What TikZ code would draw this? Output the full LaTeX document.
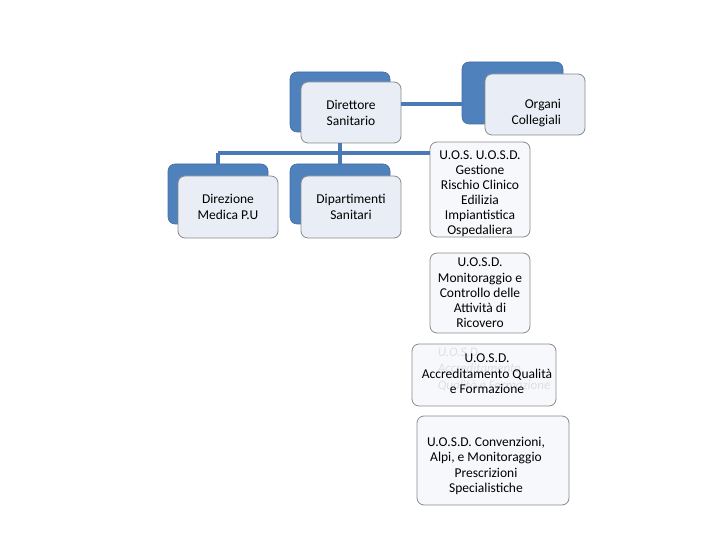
\documentclass[tikz,border=0pt]{standalone}
\usepackage{fontspec}
\setmainfont{Carlito}
\usetikzlibrary{positioning,calc}
\definecolor{backblue}{HTML}{4F81BD}
\definecolor{linkblue}{HTML}{4A7AB4}
\definecolor{frontfill}{HTML}{E9EEF6}
\definecolor{boxfill}{HTML}{F6F8FB}
\definecolor{bordergray}{HTML}{8A8A8A}
\definecolor{txt}{HTML}{000000}
\newcommand\lblfont{\fontsize{13.5}{16}\selectfont}
\newcommand\ghostfont{\fontsize{13}{16.5}\selectfont\itshape}
\tikzset{
  backbox/.style={rectangle, rounded corners=7pt, fill=backblue, draw=backblue!85!black, line width=0.6pt, inner sep=0pt, minimum width=100pt, minimum height=60pt},
  frontbox/.style={rectangle, rounded corners=7pt, fill=frontfill, draw=bordergray, line width=0.8pt, inner sep=0pt, minimum width=100pt, minimum height=62pt, align=center, font=\lblfont, text=txt},
  textbox/.style={rectangle, rounded corners=7pt, fill=boxfill, draw=bordergray, line width=0.8pt, inner sep=0pt, align=center, font=\lblfont, text=txt},
  plainlbl/.style={inner sep=0pt, align=center, font=\lblfont, text=txt},
  ghostlbl/.style={inner sep=0pt, align=left, font=\ghostfont, text=gray!25},
  link/.style={draw=linkblue, line width=3.5pt}
}
\begin{document}
\begin{tikzpicture}[x=1pt,y=-1pt]
\useasboundingbox (0,0) rectangle (720,540);
% Direttore Sanitario
\node[backbox] (dirB) at (340,102) {};
\node[frontbox, minimum height=61pt] (dirF) at (351,112.5) {Direttore\\Sanitario};
% Organi Collegiali
\node[backbox, minimum width=101pt, minimum height=62pt] (orgB) at (512.5,93) {};
\node[frontbox, minimum height=61pt] (orgF) at (535,104.5) {};
\node[plainlbl, align=right, text width=54pt] (orgT) at (534,113) {Organi\\Collegiali};
% Direzione Medica
\node[backbox] (dmB) at (218,194) {};
\node[frontbox] (dmF) at (228,207) {Direzione\\Medica P.U};
% Dipartimenti
\node[backbox] (dipB) at (340,194) {};
\node[frontbox] (dipF) at (351,207) {Dipartimenti\\Sanitari};
% Right column
\node[textbox, minimum width=100pt, minimum height=95pt] (uos) at (480,189.5) {};
\node[plainlbl, font=\fontsize{13.5}{15}\selectfont] (uosT) at (480,193.5) {U.O.S. U.O.S.D.\\Gestione\\Rischio Clinico\\Edilizia\\Impiantistica\\Ospedaliera};
\node[textbox, minimum width=100pt, minimum height=80pt, font=\fontsize{13.5}{15.2}\selectfont] (mon) at (480,293) {U.O.S.D.\\Monitoraggio e\\Controllo delle\\Attività di\\Ricovero};
\node[textbox, minimum width=144pt, minimum height=62pt] (acc) at (484,375) {};
\node[ghostlbl] (accG) at (494,369.5) {U.O.S.D.\\Accreditamento\\Qualità e Formazione};
\node[plainlbl, font=\fontsize{13.5}{15.5}\selectfont] (accT) at (487,374) {U.O.S.D.\\Accreditamento Qualità\\e Formazione};
\node[textbox, minimum width=152pt, minimum height=89pt] (conv) at (493,460.5) {};
\node[plainlbl, font=\fontsize{13.5}{15.5}\selectfont] (convT) at (486,466) {U.O.S.D. Convenzioni,\\Alpi, e Monitoraggio\\Prescrizioni\\Specialistiche};
% connectors
\draw[link] ([yshift=8.5pt]dirF.east) -- ([yshift=8.5pt]dirF.east -| orgB.west);
\draw[link] (dirF.south -| dipB.north) -- (dipB.north);
\coordinate (bus) at (340,153);
\draw[link] (dmB.north |- bus) -- (uos.west |- bus);
\draw[link] (dmB.north |- bus) -- (dmB.north);
\end{tikzpicture}
\end{document}
